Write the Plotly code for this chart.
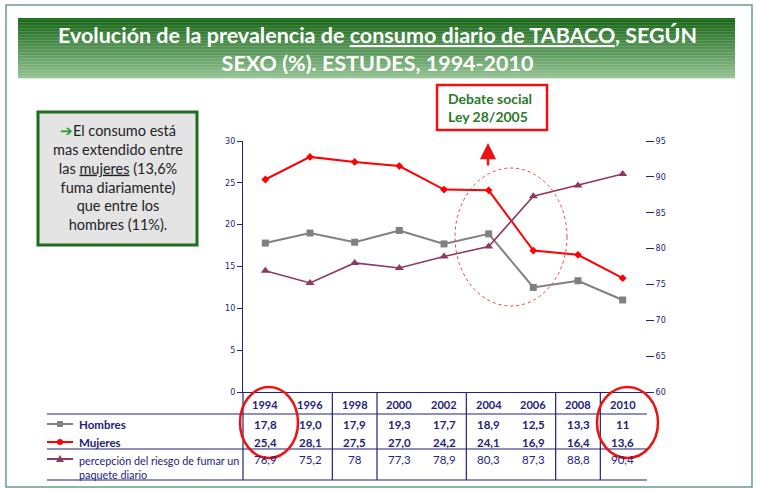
import plotly.graph_objects as go

# ---------------- data ----------------
years = ['1994', '1996', '1998', '2000', '2002', '2004', '2006', '2008', '2010']
hombres = [17.8, 19.0, 17.9, 19.3, 17.7, 18.9, 12.5, 13.3, 11]
mujeres = [25.4, 28.1, 27.5, 27.0, 24.2, 24.1, 16.9, 16.4, 13.6]
percepcion = [76.9, 75.2, 78, 77.3, 78.9, 80.3, 87.3, 88.8, 90.4]
left_ticks = [0, 5, 10, 15, 20, 25, 30]
right_ticks = [60, 65, 70, 75, 80, 85, 90, 95]
series_names = ['Hombres', 'Mujeres', 'percepción del riesgo de fumar un<br>paquete diario']

# ---------------- layout helpers ----------------
W, H = 761, 490
L, R, T, B = 243, 645, 141, 392
NAVY = '#22227a'
FONT = 'Lato'


def px(x):
    return (x - L) / (R - L)


def py(y):
    return (B - y) / (B - T)


def fmt(v):
    return str(v).replace('.', ',')


fig = go.Figure()
fig.add_trace(go.Scatter(x=years, y=hombres, mode='lines+markers', name='Hombres',
                         line=dict(color='#808080', width=2),
                         marker=dict(symbol='square', size=7, color='#808080')))
fig.add_trace(go.Scatter(x=years, y=mujeres, mode='lines+markers', name='Mujeres',
                         line=dict(color='#ff0000', width=2),
                         marker=dict(symbol='diamond', size=6, color='#ff0000')))
fig.add_trace(go.Scatter(x=years, y=percepcion, mode='lines+markers', yaxis='y2',
                         name='percepción',
                         line=dict(color='#8b3a62', width=1.6),
                         marker=dict(symbol='triangle-up', size=8, color='#8b3a62')))

shapes = []
annotations = []

# outer frame
shapes.append(dict(type='rect', xref='paper', yref='paper', x0=px(6), x1=px(752), y0=py(487), y1=py(5),
                   line=dict(color='#6a9e8c', width=1.5), fillcolor='rgba(0,0,0,0)', layer='below'))

# gradient banner
n = 40
top_c = (24, 102, 24)
bot_c = (145, 193, 145)
y_top, y_bot = 18, 78
for i in range(n):
    t = i / (n - 1)
    c = tuple(int(round(top_c[k] + (bot_c[k] - top_c[k]) * t)) for k in range(3))
    ya = y_top + (y_bot - y_top) * i / n
    yb = y_top + (y_bot - y_top) * (i + 1) / n
    shapes.append(dict(type='rect', xref='paper', yref='paper', x0=px(18), x1=px(735),
                       y0=py(yb + 0.3), y1=py(ya), line=dict(width=0),
                       fillcolor='rgb(%d,%d,%d)' % c, layer='below'))

annotations.append(dict(xref='paper', yref='paper', x=px(377), y=py(49), xanchor='center', yanchor='middle',
                        showarrow=False, align='center',
                        text='<b>Evolución de la prevalencia de <span style="text-decoration:underline">consumo diario de TABACO</span>, SEGÚN<br>SEXO (%). ESTUDES, 1994-2010</b>',
                        font=dict(family=FONT, size=21.5, color='white')))

# left text box
shapes.append(dict(type='rect', xref='paper', yref='paper', x0=px(38), x1=px(197), y0=py(245), y1=py(112),
                   line=dict(color='#1f6b1f', width=3), fillcolor='#e4e4e4'))
annotations.append(dict(xref='paper', yref='paper', x=px(118), y=py(177), xanchor='center', yanchor='middle',
                        showarrow=False, align='center',
                        text='<span style="color:#2ea02e">➔</span>El consumo está<br>mas extendido entre<br>'
                             'las <span style="text-decoration:underline">mujeres</span> (13,6%<br>fuma diariamente)<br>'
                             'que entre los<br>hombres (11%).',
                        font=dict(family=FONT, size=14.5, color='#222222')))

# Debate social box
shapes.append(dict(type='rect', xref='paper', yref='paper', x0=px(437), x1=px(547), y0=py(130), y1=py(85),
                   line=dict(color='#ee1111', width=2.5), fillcolor='white'))
annotations.append(dict(xref='paper', yref='paper', x=px(446), y=py(108), xanchor='left', yanchor='middle',
                        showarrow=False, align='left',
                        text='<b>Debate social<br>Ley 28/2005</b>',
                        font=dict(family=FONT, size=14, color='#2b7a2b')))
# red arrow
annotations.append(dict(xref='paper', yref='paper', x=px(488), y=py(143), ax=0, ay=24,
                        showarrow=True, arrowhead=2, arrowsize=1.3,
                        arrowwidth=2.5, arrowcolor='#ee1111', text=''))
# dashed ellipse
shapes.append(dict(type='circle', xref='paper', yref='paper', x0=px(455), x1=px(567), y0=py(306), y1=py(168),
                   line=dict(color='#e84040', width=1, dash='dot')))

# ---------------- data table ----------------
line_col = NAVY
for yy in (414, 449, 480):
    shapes.append(dict(type='line', xref='paper', yref='paper', x0=px(47), x1=px(647), y0=py(yy), y1=py(yy),
                       line=dict(color=line_col, width=1.2)))
shapes.append(dict(type='line', xref='paper', yref='paper', x0=0, x1=0, y0=py(392), y1=py(480),
                   line=dict(color=line_col, width=1.2)))
for b in (1.5, 2.5, 4.5, 6.5, 7.5):
    shapes.append(dict(type='line', xref='x', yref='paper', x0=b, x1=b, y0=py(392), y1=py(480),
                       line=dict(color=line_col, width=1.2)))

for i, yr in enumerate(years):
    annotations.append(dict(xref='x', yref='paper', x=i, y=py(404), text='<b>%s</b>' % yr, showarrow=False,
                            xanchor='center', yanchor='middle',
                            font=dict(family=FONT, size=11, color=NAVY)))
    annotations.append(dict(xref='x', yref='paper', x=i, y=py(424), text='<b>%s</b>' % fmt(hombres[i]),
                            xanchor='center', yanchor='middle',
                            showarrow=False, font=dict(family=FONT, size=11.5, color=NAVY)))
    annotations.append(dict(xref='x', yref='paper', x=i, y=py(442), text='<b>%s</b>' % fmt(mujeres[i]),
                            xanchor='center', yanchor='middle',
                            showarrow=False, font=dict(family=FONT, size=11.5, color=NAVY)))
    annotations.append(dict(xref='x', yref='paper', x=i, y=py(459), text=fmt(percepcion[i]),
                            xanchor='center', yanchor='middle',
                            showarrow=False, font=dict(family=FONT, size=11.5, color=NAVY)))

# legend keys
shapes.append(dict(type='line', xref='paper', yref='paper', x0=px(47), x1=px(73), y0=py(424), y1=py(424),
                   line=dict(color='#808080', width=2)))
shapes.append(dict(type='rect', xref='paper', yref='paper', x0=px(57), x1=px(63), y0=py(427), y1=py(421),
                   line=dict(width=0), fillcolor='#808080'))
shapes.append(dict(type='line', xref='paper', yref='paper', x0=px(47), x1=px(73), y0=py(442), y1=py(442),
                   line=dict(color='#ff0000', width=2)))
shapes.append(dict(type='circle', xref='paper', yref='paper', x0=px(57), x1=px(63), y0=py(445), y1=py(439),
                   line=dict(width=0), fillcolor='#ff0000'))
shapes.append(dict(type='line', xref='paper', yref='paper', x0=px(47), x1=px(73), y0=py(459), y1=py(459),
                   line=dict(color='#8b3a62', width=2)))
tri = 'M %f,%f L %f,%f L %f,%f Z' % (px(56), py(462), px(64), py(462), px(60), py(455))
shapes.append(dict(type='path', xref='paper', yref='paper', path=tri, line=dict(width=0), fillcolor='#8b3a62'))

annotations.append(dict(xref='paper', yref='paper', x=px(77), y=py(424), xanchor='left', yanchor='middle',
                        showarrow=False,
                        text='<b>%s</b>' % series_names[0], font=dict(family=FONT, size=11.5, color=NAVY)))
annotations.append(dict(xref='paper', yref='paper', x=px(77), y=py(442), xanchor='left', yanchor='middle',
                        showarrow=False,
                        text='<b>%s</b>' % series_names[1], font=dict(family=FONT, size=11.5, color=NAVY)))
annotations.append(dict(xref='paper', yref='paper', x=px(77), y=py(467), xanchor='left', yanchor='middle',
                        showarrow=False, align='left',
                        text=series_names[2], font=dict(family=FONT, size=10.8, color=NAVY)))

# red circles in table
shapes.append(dict(type='circle', xref='paper', yref='paper', x0=px(240), x1=px(298), y0=py(458), y1=py(387),
                   line=dict(color='#ee1111', width=2.5)))
shapes.append(dict(type='circle', xref='paper', yref='paper', x0=px(597), x1=px(658), y0=py(458), y1=py(387),
                   line=dict(color='#ee1111', width=2.5)))

fig.update_layout(
    width=W, height=H, autosize=False,
    margin=dict(l=L, r=W - R, t=T, b=H - B, pad=0),
    paper_bgcolor='white', plot_bgcolor='white',
    showlegend=False,
    xaxis=dict(type='category', range=[-0.5, 8.5], showticklabels=False, ticks='',
               showline=True, linecolor=NAVY, linewidth=1, showgrid=False, zeroline=False),
    yaxis=dict(range=[0, 30], tickvals=left_ticks, ticks='outside', ticklen=5, tickcolor=NAVY,
               showline=True, linecolor=NAVY, linewidth=1.2, showgrid=False, zeroline=False,
               tickfont=dict(family='DejaVu Sans', size=8, color=NAVY)),
    yaxis2=dict(range=[60, 95], tickvals=right_ticks, overlaying='y', side='right', ticks='outside',
                ticklen=8, tickcolor=NAVY, showline=False, showgrid=False, zeroline=False,
                tickfont=dict(family='DejaVu Sans', size=8, color=NAVY)),
    shapes=shapes,
    annotations=annotations,
)

fig.write_html('out.html')
